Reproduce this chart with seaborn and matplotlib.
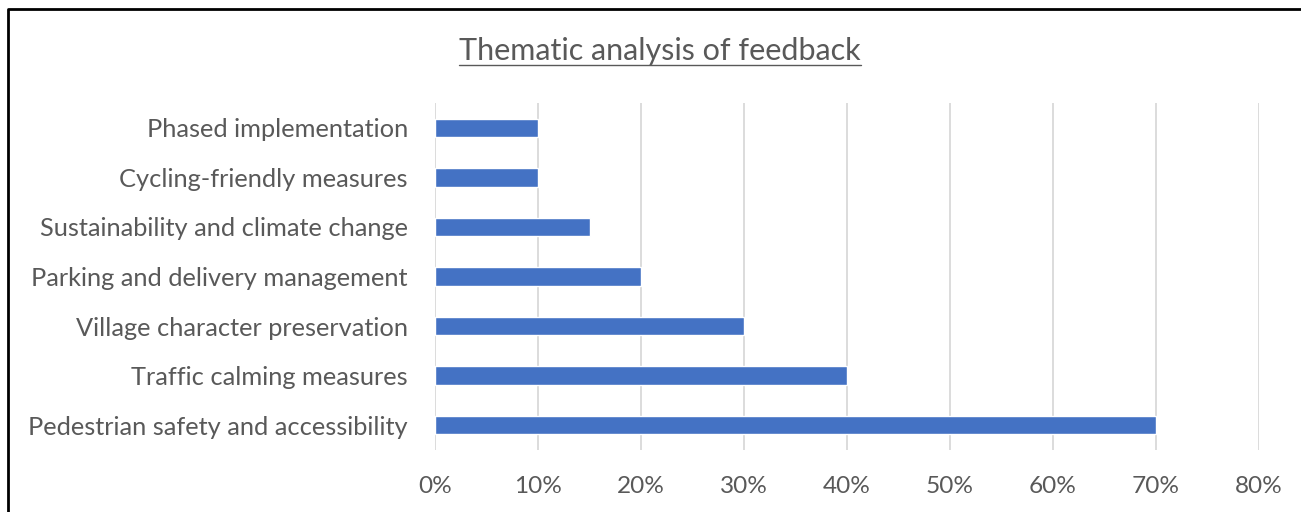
import matplotlib
matplotlib.use("Agg")
import matplotlib.pyplot as plt
import matplotlib.ticker as mticker
from matplotlib.lines import Line2D
import pandas as pd
import seaborn as sns

# --- datos ---
themes = [
    "Phased implementation",
    "Cycling-friendly measures",
    "Sustainability and climate change",
    "Parking and delivery management",
    "Village character preservation",
    "Traffic calming measures",
    "Pedestrian safety and accessibility",
]
shares = [10, 10, 15, 20, 30, 40, 70]
x_ticks = [0, 10, 20, 30, 40, 50, 60, 70, 80]
title = "Thematic analysis of feedback"

BAR_COLOR = "#4472C4"
TEXT_COLOR = "#595959"
GRID_COLOR = "#D9D9D9"

df = pd.DataFrame({"theme": themes, "share": shares})

sns.set_style("white")
plt.rcParams["font.family"] = ["Lato", "DejaVu Sans"]

fig = plt.figure(figsize=(13.01, 5.12), dpi=100)
ax = fig.add_axes([435 / 1301, 1 - 450 / 512, (1259 - 435) / 1301, 347 / 512])

sns.barplot(data=df, x="share", y="theme", color=BAR_COLOR, width=0.37,
            saturation=1, ax=ax, orient="h")

ax.set_xlim(0, 80)
ax.set_xticks(x_ticks)
ax.xaxis.set_major_formatter(mticker.FuncFormatter(lambda v, p: f"{v:.0f}%"))
ax.set_xlabel("")
ax.set_ylabel("")
ax.grid(axis="x", color=GRID_COLOR, linewidth=1.3)
ax.set_axisbelow(True)
for s in ax.spines.values():
    s.set_visible(False)
ax.tick_params(axis="x", length=0, pad=19, labelsize=17.6, labelcolor=TEXT_COLOR)
ax.tick_params(axis="y", length=0, pad=19.5, labelsize=18.3, labelcolor=TEXT_COLOR)

# titulo subrayado
t = fig.text(660 / 1301, 1 - 51 / 512, title, ha="center", va="center",
             fontsize=22, color=TEXT_COLOR)
fig.canvas.draw()
bb = t.get_window_extent()
uy = bb.y0
fig.add_artist(Line2D([bb.x0, bb.x1], [uy, uy], transform=None,
                      color=TEXT_COLOR, linewidth=1))

# marco del grafico
fig.add_artist(Line2D([8 / 1301, 8 / 1301, 1.0], [0.0, 1 - 9 / 512, 1 - 9 / 512],
                      transform=fig.transFigure, color="black", linewidth=2))

fig.savefig("out.png", dpi=100)
